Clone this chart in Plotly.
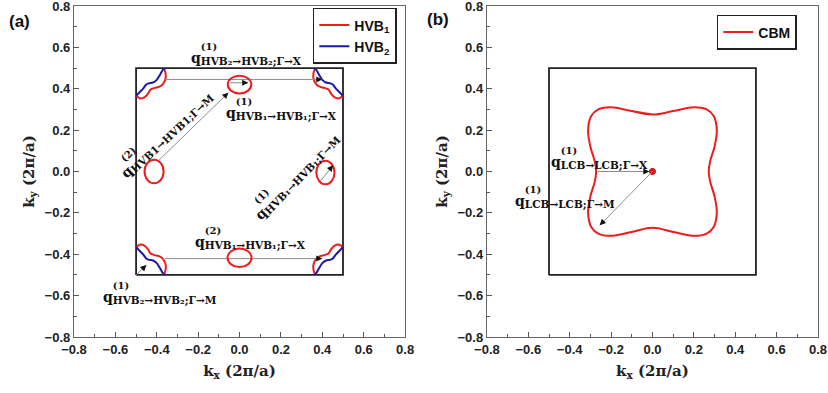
import math
import plotly.graph_objects as go

# ---------------- data ----------------
TICK_VALUES = [-0.8, -0.6, -0.4, -0.2, 0.0, 0.2, 0.4, 0.6, 0.8]
TICK_LABELS = ["\u22120.8", "\u22120.6", "\u22120.4", "\u22120.2", "0.0", "0.2", "0.4", "0.6", "0.8"]
MINOR_TICKS = [-0.7, -0.5, -0.3, -0.1, 0.1, 0.3, 0.5, 0.7]

BZ_X = [-0.5, 0.5, 0.5, -0.5, -0.5]
BZ_Y = [-0.5, -0.5, 0.5, 0.5, -0.5]

# HVB1 corner pockets (red), four zone corners separated by None
HVB1_X = [-0.500, -0.483, -0.460, -0.443, -0.430, -0.410, -0.387, -0.370, -0.358, -0.357, -0.362, -0.368, None,
          0.500, 0.483, 0.460, 0.443, 0.430, 0.410, 0.387, 0.370, 0.358, 0.357, 0.362, 0.368, None,
          -0.500, -0.483, -0.460, -0.443, -0.430, -0.410, -0.387, -0.370, -0.358, -0.357, -0.362, -0.368, None,
          0.500, 0.483, 0.460, 0.443, 0.430, 0.410, 0.387, 0.370, 0.358, 0.357, 0.362, 0.368]
HVB1_Y = [0.368, 0.354, 0.358, 0.375, 0.396, 0.404, 0.410, 0.422, 0.447, 0.472, 0.490, 0.500, None,
          0.368, 0.354, 0.358, 0.375, 0.396, 0.404, 0.410, 0.422, 0.447, 0.472, 0.490, 0.500, None,
          -0.368, -0.354, -0.358, -0.375, -0.396, -0.404, -0.410, -0.422, -0.447, -0.472, -0.490, -0.500, None,
          -0.368, -0.354, -0.358, -0.375, -0.396, -0.404, -0.410, -0.422, -0.447, -0.472, -0.490, -0.500]

# HVB2 corner pockets (blue)
HVB2_X = [-0.500, -0.482, -0.465, -0.452, -0.440, -0.418, -0.400, -0.385, -0.370, -0.360, None,
          0.500, 0.482, 0.465, 0.452, 0.440, 0.418, 0.400, 0.385, 0.370, 0.360, None,
          -0.500, -0.482, -0.465, -0.452, -0.440, -0.418, -0.400, -0.385, -0.370, -0.360, None,
          0.500, 0.482, 0.465, 0.452, 0.440, 0.418, 0.400, 0.385, 0.370, 0.360]
HVB2_Y = [0.366, 0.384, 0.402, 0.419, 0.426, 0.430, 0.443, 0.466, 0.492, 0.500, None,
          0.366, 0.384, 0.402, 0.419, 0.426, 0.430, 0.443, 0.466, 0.492, 0.500, None,
          -0.366, -0.384, -0.402, -0.419, -0.426, -0.430, -0.443, -0.466, -0.492, -0.500, None,
          -0.366, -0.384, -0.402, -0.419, -0.426, -0.430, -0.443, -0.466, -0.492, -0.500]

# HVB1 elliptical pockets: centre and half-widths
ELL_CX = [0.000, 0.000, -0.413, 0.415]
ELL_CY = [0.420, -0.417, 0.000, -0.005]
ELL_RX = [0.057, 0.058, 0.046, 0.044]
ELL_RY = [0.043, 0.045, 0.057, 0.057]

# CBM contour (closed, first two points repeated)
CBM_X = [0.000, -0.100, -0.200, -0.262, -0.296, -0.311, -0.300, -0.279, -0.272, -0.279, -0.300, -0.311,
         -0.296, -0.262, -0.200, -0.100, 0.000, 0.100, 0.200, 0.262, 0.296, 0.311, 0.300, 0.279, 0.272,
         0.279, 0.300, 0.311, 0.296, 0.262, 0.200, 0.100, 0.000, -0.100]
CBM_Y = [0.275, 0.292, 0.311, 0.300, 0.268, 0.200, 0.120, 0.050, 0.000, -0.050, -0.120, -0.200,
         -0.268, -0.300, -0.311, -0.292, -0.272, -0.292, -0.311, -0.300, -0.268, -0.200, -0.120, -0.050, 0.000,
         0.050, 0.120, 0.200, 0.268, 0.300, 0.311, 0.292, 0.275, 0.292]
CBM_DOT_X = [0.0]
CBM_DOT_Y = [0.0]

# scattering vectors (tail -> head)
A_TAIL_X = [-0.360, -0.046, -0.392, 0.392, -0.360, -0.500]
A_TAIL_Y = [0.445, 0.429, 0.052, -0.045, -0.421, -0.500]
A_HEAD_X = [0.400, 0.042, -0.054, 0.452, 0.400, -0.450]
A_HEAD_Y = [0.445, 0.429, 0.381, 0.030, -0.421, -0.452]

B_TAIL_X = [-0.263, 0.000]
B_TAIL_Y = [0.000, 0.000]
B_HEAD_X = [-0.015, -0.255]
B_HEAD_Y = [0.000, -0.260]

# labels
A_LAB_SUP = ["(1)", "(1)", "(2)", "(1)", "(2)", "(1)"]
A_LAB_SUB = ["HVB\u2082\u2192HVB\u2082;\u0393\u2192X", "HVB\u2081\u2192HVB\u2081;\u0393\u2192X",
             "HVB1\u2192HVB1;\u0393\u2192M", "HVB\u2081\u2192HVB\u2081;\u0393\u2192M",
             "HVB\u2081\u2192HVB\u2081;\u0393\u2192X", "HVB\u2082\u2192HVB\u2082;\u0393\u2192M"]
A_LAB_X = [0.036, 0.205, -0.372, 0.258, 0.051, -0.384]
A_LAB_Y = [0.575, 0.309, 0.200, -0.005, -0.313, -0.579]
A_LAB_ANG = [0, 0, -43, -46, 0, 0]

B_LAB_SUP = ["(1)", "(1)"]
B_LAB_SUB = ["LCB\u2192LCB;\u0393\u2192X", "LCB\u2192LCB;\u0393\u2192M"]
B_LAB_X = [-0.254, -0.425]
B_LAB_Y = [0.074, -0.114]
B_LAB_ANG = [0, 0]

# ---------------- figure ----------------
RED = "#ee1c1c"
BLUE = "#1a1aa8"
SERIF = "DejaVu Serif"
SANS = "Liberation Sans"

fig = go.Figure()


def add_bz(xa, ya):
    fig.add_trace(go.Scatter(x=BZ_X, y=BZ_Y, mode="lines", line=dict(color="#222", width=1.8),
                             showlegend=False, hoverinfo="skip", xaxis=xa, yaxis=ya))


add_bz("x", "y")
add_bz("x2", "y2")

fig.add_trace(go.Scatter(x=HVB1_X, y=HVB1_Y, mode="lines", name="HVB<sub>1</sub>",
                         line=dict(color=RED, width=2, shape="spline", smoothing=0.8),
                         legend="legend", xaxis="x", yaxis="y"))
fig.add_trace(go.Scatter(x=HVB2_X, y=HVB2_Y, mode="lines", name="HVB<sub>2</sub>",
                         line=dict(color=BLUE, width=2, shape="spline", smoothing=0.8),
                         legend="legend", xaxis="x", yaxis="y"))
fig.add_trace(go.Scatter(x=CBM_X, y=CBM_Y, mode="lines", name="CBM",
                         line=dict(color=RED, width=2, shape="spline", smoothing=1.0),
                         legend="legend2", xaxis="x2", yaxis="y2"))
fig.add_trace(go.Scatter(x=CBM_DOT_X, y=CBM_DOT_Y, mode="markers", showlegend=False,
                         marker=dict(color=RED, size=6, line=dict(color="#a00", width=1)),
                         xaxis="x2", yaxis="y2"))

for cx, cy, rx, ry in zip(ELL_CX, ELL_CY, ELL_RX, ELL_RY):
    fig.add_shape(type="circle", xref="x", yref="y", x0=cx - rx, x1=cx + rx, y0=cy - ry, y1=cy + ry,
                  line=dict(color=RED, width=2))

annotations = []


def add_arrows(tx, ty, hx, hy, xa, ya):
    for x0, y0, x1, y1 in zip(tx, ty, hx, hy):
        fig.add_trace(go.Scatter(x=[x0, x1], y=[y0, y1], mode="lines", line=dict(color="#8c8c8c", width=1),
                                 showlegend=False, hoverinfo="skip", xaxis=xa, yaxis=ya))
        dx, dy = x1 - x0, y1 - y0
        n = math.hypot(dx, dy)
        L = 6
        annotations.append(dict(x=x1, y=y1, xref=xa, yref=ya, ax=-dx / n * L, ay=dy / n * L,
                                text="", showarrow=True, arrowhead=2, arrowsize=1.1, arrowwidth=1.1,
                                arrowcolor="#111", standoff=0))


add_arrows(A_TAIL_X, A_TAIL_Y, A_HEAD_X, A_HEAD_Y, "x", "y")
add_arrows(B_TAIL_X, B_TAIL_Y, B_HEAD_X, B_HEAD_Y, "x2", "y2")


def qlabel(sup, sub):
    return ("<span style='font-size:14px;color:rgba(0,0,0,0)'>q</span>" + sup +
            "<br><span style='font-size:14px'>q</span><sub><span style='font-size:10.5px'>" + sub +
            "</span></sub>")


def add_labels(sups, subs, xs, ys, angs, xa, ya):
    for s1, s2, x, y, a in zip(sups, subs, xs, ys, angs):
        annotations.append(dict(x=x, y=y, xref=xa, yref=ya, text=qlabel(s1, s2), showarrow=False,
                                align="left", xanchor="center", yanchor="middle", textangle=a,
                                font=dict(family=SERIF, size=10, color="#111", weight="bold")))


add_labels(A_LAB_SUP, A_LAB_SUB, A_LAB_X, A_LAB_Y, A_LAB_ANG, "x", "y")
add_labels(B_LAB_SUP, B_LAB_SUB, B_LAB_X, B_LAB_Y, B_LAB_ANG, "x2", "y2")

annotations.append(dict(x=-0.0726, y=0.952, xref="paper", yref="paper", text="(a)", showarrow=False,
                        xanchor="center", yanchor="middle",
                        font=dict(family=SANS, size=17, color="#111", weight="bold")))
annotations.append(dict(x=0.489, y=0.958, xref="paper", yref="paper", text="(b)", showarrow=False,
                        xanchor="center", yanchor="middle",
                        font=dict(family=SANS, size=17, color="#111", weight="bold")))


def axis_style(title, domain=None, anchor=None, standoff=6):
    d = dict(range=[-0.8, 0.8], tickmode="array", tickvals=TICK_VALUES, ticktext=TICK_LABELS,
             ticks="inside", ticklen=5, tickwidth=1.2, tickcolor="#555",
             showline=True, linecolor="#666", linewidth=1.3, mirror=True,
             showgrid=False, zeroline=False, ticklabeloverflow="allow", automargin=False,
             tickfont=dict(family=SANS, size=13, color="#222", weight="bold"),
             minor=dict(ticks="inside", ticklen=3, tickwidth=1, tickcolor="#555",
                        tickvals=MINOR_TICKS, showgrid=False),
             title=dict(text=title, font=dict(family=SERIF, size=15, color="#222", weight="bold"),
                        standoff=standoff))
    if domain is not None:
        d["domain"] = domain
    if anchor is not None:
        d["anchor"] = anchor
    return d


fig.update_layout(
    width=828, height=393,
    margin=dict(l=74, r=10, t=6, b=56, autoexpand=False),
    paper_bgcolor="white", plot_bgcolor="white",
    xaxis=axis_style("k<sub>x</sub> (2\u03c0/a)", [0, 0.445], "y", 9),
    yaxis=axis_style("k<sub>y</sub> (2\u03c0/a)", [0, 1], "x", 6),
    xaxis2=axis_style("k<sub>x</sub> (2\u03c0/a)", [0.555, 1], "y2", 9),
    yaxis2=axis_style("k<sub>y</sub> (2\u03c0/a)", [0, 1], "x2", 6),
    legend=dict(x=0.321, y=0.994, xanchor="left", yanchor="top", bordercolor="#222", borderwidth=1.5,
                bgcolor="white", font=dict(family=SANS, size=14, color="#111", weight="bold"),
                tracegroupgap=0, itemwidth=30),
    legend2=dict(x=0.864, y=0.973, xanchor="left", yanchor="top", bordercolor="#222", borderwidth=1.5,
                 bgcolor="white", font=dict(family=SANS, size=14, color="#111", weight="bold"),
                 itemwidth=30),
    annotations=annotations,
    showlegend=True,
)

fig.write_html("out.html")
